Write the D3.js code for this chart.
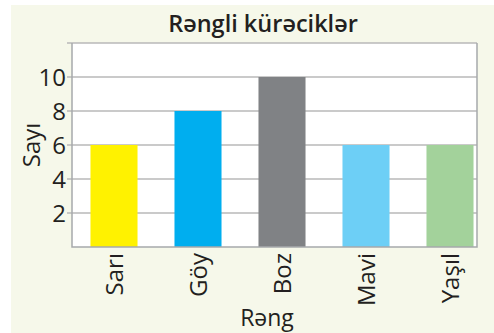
<!DOCTYPE html>
<html>
<head>
<meta charset="utf-8">
<script src="https://cdn.jsdelivr.net/npm/d3@7"></script>
<style>
  html, body { margin: 0; padding: 0; background: #ffffff; }
  svg { display: block; }
  text { font-family: "Open Sans", "Noto Sans", sans-serif; fill: #231f20; }
</style>
</head>
<body>
<svg id="chart" width="494" height="333"></svg>
<script>
// Number of coloured balls by colour
const categories = ["Sarı", "Göy", "Boz", "Mavi", "Yaşıl"];
const values = [6, 8, 10, 6, 6];
const barColors = ["#fff200", "#00aeef", "#808285", "#6dcff6", "#a3d29b"];
const yTicks = [2, 4, 6, 8, 10];
const yGrid = [2, 4, 6, 8, 10, 12];

const title = "Rəngli kürəciklər";
const xTitle = "Rəng";
const yTitle = "Sayı";

const svg = d3.select("#chart");

// panel background
svg.append("rect")
  .attr("x", 11).attr("y", 5)
  .attr("width", 483).attr("height", 328)
  .attr("fill", "#f6f8ea");

const plot = { left: 72, top: 43, right: 477, bottom: 247 };

const x = d3.scaleBand()
  .domain(categories)
  .range([plot.left, plot.left + 420])
  .paddingInner(0.44)
  .paddingOuter(0.22);

const y = d3.scaleLinear()
  .domain([0, 12])
  .range([plot.bottom, plot.top]);

// plot area
svg.append("rect")
  .attr("x", plot.left).attr("y", plot.top)
  .attr("width", plot.right - plot.left)
  .attr("height", plot.bottom - plot.top)
  .attr("fill", "#ffffff");

// horizontal grid lines (extend slightly left as tick marks)
svg.append("g")
  .selectAll("line")
  .data(yGrid)
  .join("line")
  .attr("x1", plot.left - 5)
  .attr("x2", plot.right)
  .attr("y1", d => y(d))
  .attr("y2", d => y(d))
  .attr("stroke", "#b9b9b9")
  .attr("stroke-width", 1.5);

// bars
svg.append("g")
  .selectAll("rect")
  .data(categories)
  .join("rect")
  .attr("x", d => x(d))
  .attr("width", x.bandwidth())
  .attr("y", (d, i) => y(values[i]))
  .attr("height", (d, i) => y(0) - y(values[i]))
  .attr("fill", (d, i) => barColors[i]);

// plot border: left, right and bottom edges
svg.append("path")
  .attr("d", `M${plot.left},${plot.top}V${plot.bottom}H${plot.right}V${plot.top}`)
  .attr("fill", "none")
  .attr("stroke", "#a7a9ac")
  .attr("stroke-width", 1.5);

// y tick labels
const yAxis = d3.axisLeft(y).tickValues(yTicks).tickSize(0).tickPadding(6);
const gy = svg.append("g")
  .attr("transform", `translate(${plot.left},0)`)
  .call(yAxis);
gy.select(".domain").remove();
gy.selectAll("text")
  .attr("font-size", 24)
  .attr("font-family", "'Open Sans', 'Noto Sans', sans-serif")
  .attr("fill", "#231f20")
  .attr("dy", "0.36em");

// x category labels, rotated
const xAxis = d3.axisBottom(x).tickSize(0).tickPadding(0);
const gx = svg.append("g")
  .attr("transform", `translate(0,${plot.bottom})`)
  .call(xAxis);
gx.select(".domain").remove();
gx.selectAll("text")
  .attr("font-size", 24)
  .attr("font-family", "'Open Sans', 'Noto Sans', sans-serif")
  .attr("fill", "#231f20")
  .attr("transform", "rotate(-90)")
  .attr("text-anchor", "end")
  .attr("x", -6)
  .attr("y", 0)
  .attr("dy", "0.36em");

// title
svg.append("text")
  .attr("x", 263).attr("y", 32)
  .attr("text-anchor", "middle")
  .attr("font-size", 23.5)
  .attr("font-weight", 600)
  .text(title);

// axis titles
svg.append("text")
  .attr("x", 267).attr("y", 326)
  .attr("text-anchor", "middle")
  .attr("font-size", 23)
  .text(xTitle);

svg.append("text")
  .attr("transform", "translate(40,145) rotate(-90)")
  .attr("text-anchor", "middle")
  .attr("font-size", 24)
  .text(yTitle);
</script>
</body>
</html>
